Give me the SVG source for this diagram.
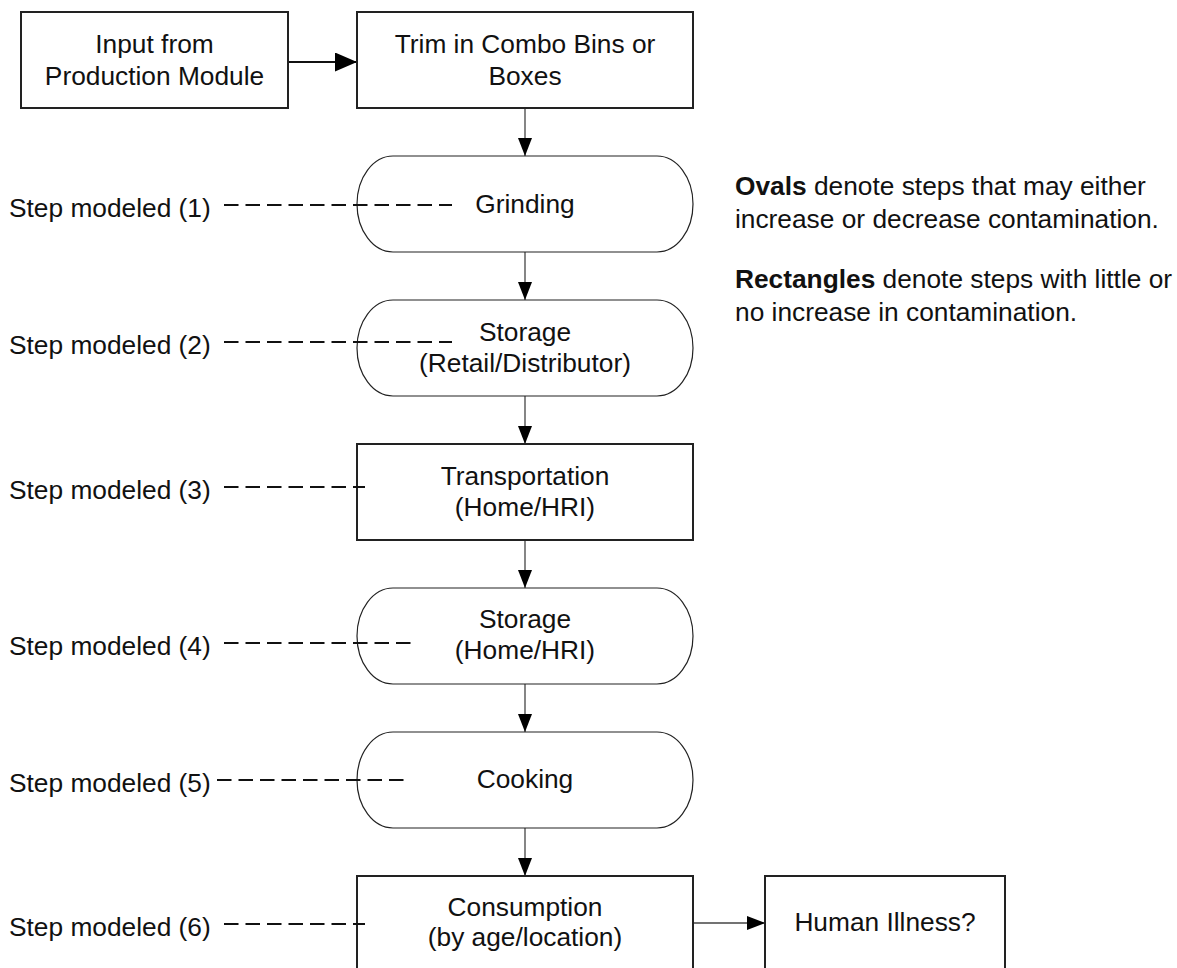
<svg xmlns="http://www.w3.org/2000/svg" width="1177" height="968" viewBox="0 0 1177 968">
  <style>
    text { font-family: "Liberation Sans", Arial, Helvetica, sans-serif; font-size: 26.3px; fill: #111; }
    .box { fill: #fff; stroke: #222; stroke-width: 2; }
    .oval { fill: #fff; stroke: #222; stroke-width: 1.2; }
    .flow { fill: none; stroke: #444; stroke-width: 1.3; }
    .flow-main { fill: none; stroke: #111; stroke-width: 2; }
    .lead { fill: none; stroke: #111; stroke-width: 1.8; stroke-dasharray: 14.5 7; }
    .c { text-anchor: middle; }
    .b { font-weight: bold; }
  </style>
  <defs>
    <marker id="head" markerUnits="userSpaceOnUse" markerWidth="18" markerHeight="14" refX="18" refY="7" orient="auto">
      <path d="M0,0 L18,7 L0,14 z" fill="#000"/>
    </marker>
    <marker id="head-lg" markerUnits="userSpaceOnUse" markerWidth="22" markerHeight="19" refX="22" refY="9.5" orient="auto">
      <path d="M0,0 L22,9.5 L0,19 z" fill="#000"/>
    </marker>
  </defs>

  <rect width="1177" height="968" fill="#fff"/>

  <!-- connectors -->
  <g id="connectors">
    <line class="flow-main" x1="288" y1="62" x2="357" y2="62" marker-end="url(#head-lg)"/>
    <line class="flow" x1="525" y1="108" x2="525" y2="156" marker-end="url(#head)"/>
    <line class="flow" x1="525" y1="252" x2="525" y2="300" marker-end="url(#head)"/>
    <line class="flow" x1="525" y1="396" x2="525" y2="444" marker-end="url(#head)"/>
    <line class="flow" x1="525" y1="540" x2="525" y2="588" marker-end="url(#head)"/>
    <line class="flow" x1="525" y1="684" x2="525" y2="732" marker-end="url(#head)"/>
    <line class="flow" x1="525" y1="828" x2="525" y2="876" marker-end="url(#head)"/>
    <line class="flow" x1="693" y1="923" x2="765" y2="923" marker-end="url(#head)"/>
  </g>

  <!-- nodes -->
  <g id="input">
    <rect class="box" x="21" y="12" width="267" height="96"/>
    <text class="c" x="154.5" y="53">Input from</text>
    <text class="c" x="154.5" y="85">Production Module</text>
  </g>

  <g id="trim">
    <rect class="box" x="357" y="12" width="336" height="96"/>
    <text class="c" x="525" y="53">Trim in Combo Bins or</text>
    <text class="c" x="525" y="85">Boxes</text>
  </g>

  <g id="grinding">
    <rect class="oval" x="357" y="156" width="336" height="96" rx="36" ry="48"/>
    <text class="c" x="525" y="213">Grinding</text>
  </g>

  <g id="storage-retail">
    <rect class="oval" x="357" y="300" width="336" height="96" rx="36" ry="48"/>
    <text class="c" x="525" y="341">Storage</text>
    <text class="c" x="525" y="372">(Retail/Distributor)</text>
  </g>

  <g id="transportation">
    <rect class="box" x="357" y="444" width="336" height="96"/>
    <text class="c" x="525" y="485">Transportation</text>
    <text class="c" x="525" y="516">(Home/HRI)</text>
  </g>

  <g id="storage-home">
    <rect class="oval" x="357" y="588" width="336" height="96" rx="36" ry="48"/>
    <text class="c" x="525" y="628">Storage</text>
    <text class="c" x="525" y="659">(Home/HRI)</text>
  </g>

  <g id="cooking">
    <rect class="oval" x="357" y="732" width="336" height="96" rx="36" ry="48"/>
    <text class="c" x="525" y="788">Cooking</text>
  </g>

  <g id="consumption">
    <rect class="box" x="357" y="876" width="336" height="96"/>
    <text class="c" x="525" y="916">Consumption</text>
    <text class="c" x="525" y="946">(by age/location)</text>
  </g>

  <g id="illness">
    <rect class="box" x="765" y="876" width="240" height="96"/>
    <text class="c" x="885" y="931">Human Illness?</text>
  </g>

  <!-- step labels with dashed leaders -->
  <g id="step-labels">
    <text x="9" y="217">Step modeled (1)</text>
    <line class="lead" x1="224" y1="205" x2="452" y2="205"/>
    <text x="9" y="354">Step modeled (2)</text>
    <line class="lead" x1="224" y1="342" x2="452" y2="342"/>
    <text x="9" y="499">Step modeled (3)</text>
    <line class="lead" x1="224" y1="487" x2="365" y2="487"/>
    <text x="9" y="655">Step modeled (4)</text>
    <line class="lead" x1="224" y1="643" x2="416" y2="643"/>
    <text x="9" y="792">Step modeled (5)</text>
    <line class="lead" x1="217" y1="780" x2="409" y2="780"/>
    <text x="9" y="936">Step modeled (6)</text>
    <line class="lead" x1="224" y1="924" x2="365" y2="924"/>
  </g>

  <!-- legend -->
  <g id="legend">
    <text x="735" y="195"><tspan class="b">Ovals</tspan> denote steps that may either</text>
    <text x="735" y="228">increase or decrease contamination.</text>
    <text x="735" y="288"><tspan class="b">Rectangles</tspan> denote steps with little or</text>
    <text x="735" y="321">no increase in contamination.</text>
  </g>
</svg>
